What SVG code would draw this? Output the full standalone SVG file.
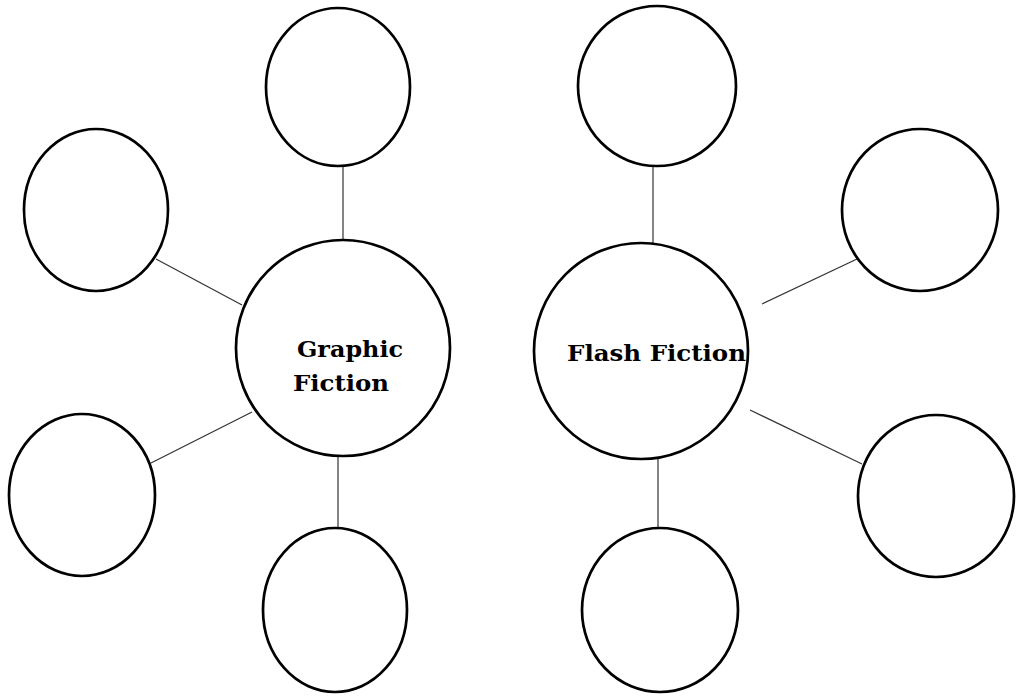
<svg xmlns="http://www.w3.org/2000/svg" width="1023" height="700" viewBox="0 0 1023 700">
<style>
.c{fill:#fff;stroke:#000;stroke-width:2.7}
.l{stroke:#333;stroke-width:1.2;fill:none}
.t{font-family:"DejaVu Serif","Liberation Serif",serif;font-weight:bold;font-size:23px;fill:#000}
</style>
<rect width="1023" height="700" fill="#fff"/>
<g id="connectors">
<line class="l" x1="343" y1="166" x2="343" y2="240"/>
<line class="l" x1="156" y1="259" x2="242" y2="305"/>
<line class="l" x1="151" y1="463" x2="252" y2="412"/>
<line class="l" x1="338" y1="456" x2="338" y2="528"/>
<line class="l" x1="653" y1="166" x2="653" y2="243"/>
<line class="l" x1="762" y1="304" x2="857" y2="259"/>
<line class="l" x1="750" y1="410" x2="862" y2="464"/>
<line class="l" x1="658" y1="459" x2="658" y2="528"/>
</g>
<g id="hub-graphic">
<ellipse class="c" cx="343" cy="348" rx="107" ry="108"/>
<text class="t" x="297" y="357" textLength="106" lengthAdjust="spacingAndGlyphs">Graphic</text>
<text class="t" x="293" y="391" textLength="96" lengthAdjust="spacingAndGlyphs">Fiction</text>
</g>
<g id="g-top"><ellipse class="c" cx="338" cy="87" rx="72" ry="79"/></g>
<g id="g-upper-left"><ellipse class="c" cx="96" cy="210" rx="72" ry="81"/></g>
<g id="g-lower-left"><ellipse class="c" cx="82" cy="495" rx="73" ry="81"/></g>
<g id="g-bottom"><ellipse class="c" cx="335" cy="610" rx="72" ry="82"/></g>
<g id="hub-flash">
<ellipse class="c" cx="641" cy="351" rx="107" ry="108"/>
<text class="t" x="567" y="361" textLength="179" lengthAdjust="spacingAndGlyphs">Flash Fiction</text>
</g>
<g id="f-top"><ellipse class="c" cx="657" cy="86" rx="79" ry="80"/></g>
<g id="f-upper-right"><ellipse class="c" cx="920" cy="210" rx="78" ry="81"/></g>
<g id="f-lower-right"><ellipse class="c" cx="936" cy="496" rx="78" ry="81"/></g>
<g id="f-bottom"><ellipse class="c" cx="660" cy="610" rx="78" ry="82"/></g>
</svg>
